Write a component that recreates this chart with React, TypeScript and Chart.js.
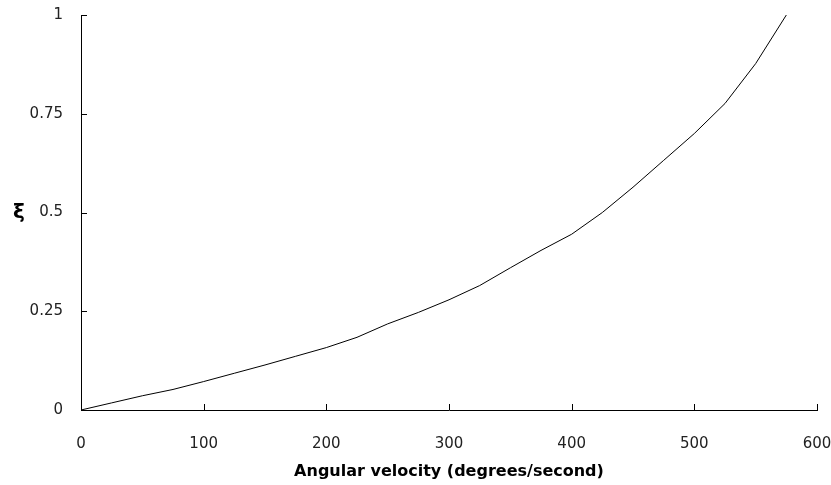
import React, { useEffect, useRef } from "react";
import { Chart, registerables } from "chart.js";

Chart.register(...registerables);

const velocities = [0, 25, 50, 75, 100, 125, 150, 175, 200, 225, 250, 275, 300, 325, 350, 375, 400, 425, 450, 475, 500, 525, 550, 575];
const xiValues = [0, 0.018, 0.036, 0.052, 0.072, 0.093, 0.114, 0.136, 0.158, 0.184, 0.218, 0.247, 0.279, 0.315, 0.36, 0.404, 0.445, 0.5, 0.564, 0.632, 0.7, 0.776, 0.877, 1.0];
const xTicks = [0, 100, 200, 300, 400, 500, 600];
const yTicks = [0, 0.25, 0.5, 0.75, 1];
const xTitle = "Angular velocity (degrees/second)";
const yTitle = "ξ";

const FONT = "'DejaVu Sans', sans-serif";

const innerTicks = {
  id: "innerTicks",
  afterDraw(chart: any) {
    const ctx = chart.ctx;
    const xs = chart.scales.x;
    const ys = chart.scales.y;
    const area = chart.chartArea;
    ctx.save();
    ctx.strokeStyle = "#000";
    ctx.lineWidth = 1;
    ctx.beginPath();
    xTicks.forEach((v) => {
      const px = Math.round(xs.getPixelForValue(v)) + 0.5;
      ctx.moveTo(px, area.bottom);
      ctx.lineTo(px, area.bottom - 6);
    });
    yTicks.forEach((v) => {
      const py = Math.round(ys.getPixelForValue(v)) + 0.5;
      ctx.moveTo(area.left, py);
      ctx.lineTo(area.left + 6, py);
    });
    ctx.stroke();
    ctx.fillStyle = "#000";
    ctx.font = `bold 20px ${FONT}`;
    ctx.textAlign = "center";
    ctx.textBaseline = "middle";
    ctx.fillText(yTitle, 19, (area.top + area.bottom) / 2);
    ctx.restore();
  },
};

export default function App() {
  const ref = useRef<HTMLCanvasElement | null>(null);
  useEffect(() => {
    document.body.style.margin = "0";
    const chart = new Chart(ref.current as HTMLCanvasElement, {
      type: "line",
      data: {
        datasets: [
          {
            data: velocities.map((v, i) => ({ x: v, y: xiValues[i] })),
            borderColor: "#000",
            borderWidth: 1,
            pointRadius: 0,
            tension: 0,
            fill: false,
          },
        ],
      },
      options: {
        animation: false,
        responsive: false,
        maintainAspectRatio: false,
        layout: { padding: { top: 15, right: 14, left: 0, bottom: 0 } },
        plugins: { legend: { display: false }, tooltip: { enabled: false } },
        scales: {
          x: {
            type: "linear",
            min: 0,
            max: 600,
            afterBuildTicks: (s: any) => {
              s.ticks = xTicks.map((v) => ({ value: v }));
            },
            afterFit: (s: any) => {
              s.height = 75;
              s.paddingLeft = 0;
              s.paddingRight = 0;
            },
            grid: { display: false },
            border: { display: true, color: "#000", width: 1 },
            ticks: { color: "#222", font: { family: FONT, size: 15 }, padding: 17, maxRotation: 0 },
            title: { display: true, text: xTitle, color: "#000", font: { family: FONT, size: 16, weight: "bold" }, padding: { top: 4 } },
          },
          y: {
            type: "linear",
            min: 0,
            max: 1,
            afterBuildTicks: (s: any) => {
              s.ticks = yTicks.map((v) => ({ value: v }));
            },
            afterFit: (s: any) => {
              s.width = 81;
              s.paddingTop = 0;
              s.paddingBottom = 0;
            },
            grid: { display: false },
            border: { display: true, color: "#000", width: 1 },
            ticks: {
              color: "#222",
              font: { family: FONT, size: 15 },
              padding: 10,
              callback: (v: any) => String(v),
            },
          },
        },
      },
      plugins: [innerTicks],
    });
    return () => chart.destroy();
  }, []);
  return (
    <div style={{ width: 831, height: 485 }}>
      <canvas ref={ref} width={831} height={485} style={{ width: 831, height: 485 }} />
    </div>
  );
}
